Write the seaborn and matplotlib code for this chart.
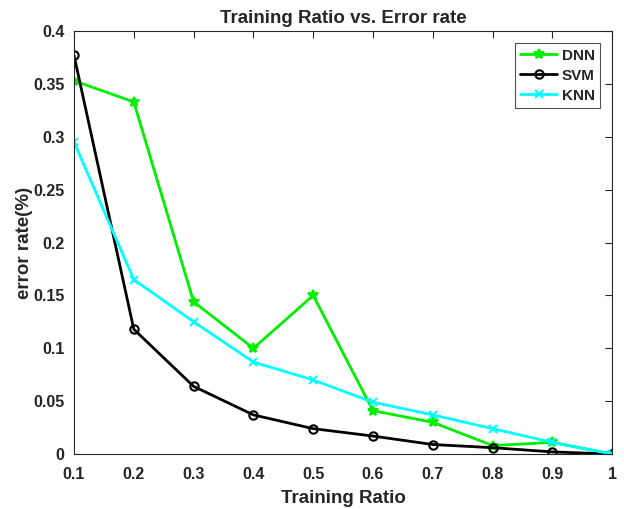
import numpy as np
import pandas as pd
import matplotlib
matplotlib.use("Agg")
import matplotlib.pyplot as plt
import seaborn as sns

ratio = [0.1, 0.2, 0.3, 0.4, 0.5, 0.6, 0.7, 0.8, 0.9, 1.0]
dnn = [0.353, 0.333, 0.144, 0.100, 0.150, 0.041, 0.030, 0.008, 0.011, 0.0]
svm = [0.377, 0.118, 0.064, 0.037, 0.024, 0.017, 0.009, 0.006, 0.002, 0.0]
knn = [0.295, 0.165, 0.125, 0.087, 0.070, 0.049, 0.037, 0.024, 0.011, 0.0]

sns.set_style("white")
plt.rcParams["font.family"] = ["Liberation Sans", "DejaVu Sans"]
plt.rcParams["font.weight"] = "bold"

fig = plt.figure(figsize=(6.24, 5.09), dpi=100)
ax = fig.add_axes([0.1186, 0.108, 0.8624, 0.831])

series = [("DNN", dnn, "#00ee00", "*", 7),
          ("SVM", svm, "black", "o", 6),
          ("KNN", knn, "cyan", "x", 6)]
for name, vals, col, mk, ms in series:
    mfc = "none" if mk == "o" else col
    sns.lineplot(x=ratio, y=vals, ax=ax, color=col, marker=mk, markersize=ms,
                 markerfacecolor=mfc, markeredgecolor=col, markeredgewidth=1.5,
                 linewidth=2, label=name)

ax.set_xlim(0.1, 1.0)
ax.set_ylim(0, 0.4)
ax.set_xticks(ratio)
ax.set_xticklabels(["0.1", "0.2", "0.3", "0.4", "0.5", "0.6", "0.7", "0.8", "0.9", "1"])
ax.set_yticks([0, 0.05, 0.1, 0.15, 0.2, 0.25, 0.3, 0.35, 0.4])
ax.set_yticklabels(["0", "0.05", "0.1", "0.15", "0.2", "0.25", "0.3", "0.35", "0.4"])
ax.tick_params(direction="in", top=True, right=True, length=5, width=0.8,
               colors="#262626", labelsize=11.5, labelcolor="#262626")
ax.tick_params(axis="x", pad=9)
ax.tick_params(axis="y", pad=7)
for s in ax.spines.values():
    s.set_color("#262626")
    s.set_linewidth(0.8)

ax.set_title("Training Ratio vs. Error rate", fontsize=13.5, fontweight="bold", pad=6)
ax.set_xlabel("Training Ratio", fontsize=13.5, fontweight="bold", color="#262626",
              labelpad=6)
ax.set_ylabel("error rate(%)", fontsize=13.5, fontweight="bold", color="#262626")
ax.yaxis.set_label_coords(-0.076, 0.5)

leg = ax.legend(loc="upper right", fontsize=11, frameon=True, fancybox=False,
                handlelength=2.4, borderpad=0.35, labelspacing=0.4,
                handletextpad=0.3, borderaxespad=0.8)
leg.get_frame().set_edgecolor("#262626")
leg.get_frame().set_linewidth(0.8)

fig.savefig("out.png", dpi=100)
